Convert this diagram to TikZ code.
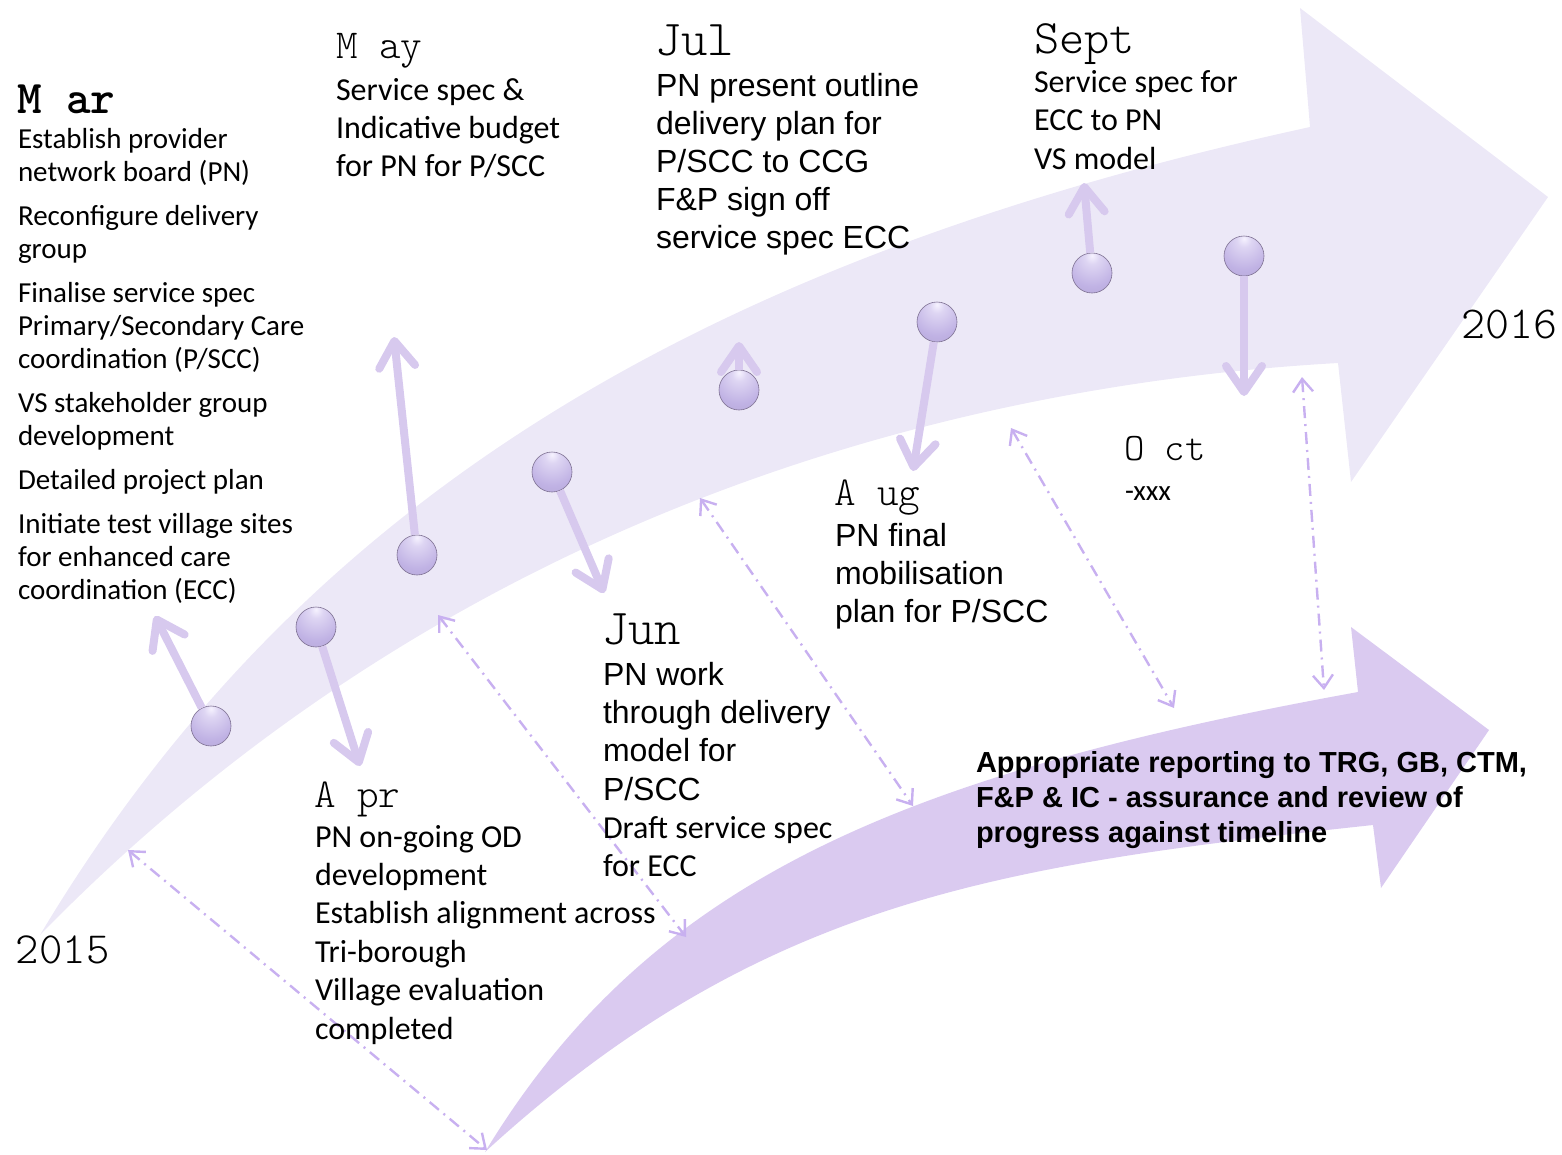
\documentclass[tikz,border=0pt]{standalone}
\usepackage{fontspec}
\usetikzlibrary{arrows.meta}
\newfontfamily\fCal{Carlito}
\newfontfamily\fAri{Liberation Sans}
\IfFontExistsTF{Latin Modern Mono Light}{\newfontfamily\fCou{Latin Modern Mono Light}\newcommand\cs{1.143}}{\newfontfamily\fCou{Liberation Mono}\newcommand\cs{1}}
\newcommand\msz[1]{\fontsize{\fpeval{#1*\cs}}{\fpeval{#1*\cs}}\selectfont}
\definecolor{bandc}{RGB}{236,232,247}
\definecolor{darkc}{RGB}{218,202,240}
\definecolor{arrc}{RGB}{215,201,238}
\definecolor{dotc}{RGB}{200,176,240}
\definecolor{ballc}{RGB}{192,178,228}
\definecolor{ballhi}{RGB}{246,242,255}
\definecolor{balledge}{RGB}{125,112,145}
\pgfdeclareradialshading{ballsh}{\pgfpoint{0bp}{22bp}}{color(0bp)=(ballhi); color(9bp)=(ballhi!55!ballc); color(32bp)=(ballc); color(60bp)=(ballc!90!black); color(70bp)=(ballc!72!black); color(100bp)=(ballc!72!black)}
\newcommand\blk[1]{\vtop{\halign{##\hfil\cr#1\crcr}}}
\newcommand\gap{\noalign{\vskip 11pt}}
\tikzset{
  txt/.style={anchor=base west, inner sep=0pt, outer sep=0pt, text=black},
  ballnode/.style={circle, minimum size=40pt, inner sep=0pt, shading=ballsh, draw=balledge, line width=0.6pt},
  sarrow/.style={draw=arrc, line width=8pt, -{Straight Barb[round, length=26pt, width=36pt]}},
  darrow/.style={draw=dotc, line width=2.4pt, dash pattern=on 12pt off 6pt on 2pt off 6pt,
     {Straight Barb[length=13pt, width=20pt]}-{Straight Barb[length=13pt, width=20pt]}}
}
\begin{document}
\begin{tikzpicture}[x=1pt, y=-1pt]
\useasboundingbox (0,0) rectangle (1562,1154);
% big light arrow
\fill[bandc] (40,935) .. controls (300,500) and (700,260) .. (1310,127) -- (1300,8) -- (1548,197) -- (1351,482) -- (1338,363) .. controls (950,385) and (450,515) .. (40,935) -- cycle;
% darker arrow
\fill[darkc] (485,1152) .. controls (650,880) and (900,775) .. (1358,692) -- (1351,627) -- (1489,730) -- (1381,888) -- (1373,825) .. controls (1000,865) and (760,900) .. (485,1152) -- cycle;

% dotted double arrows
\coordinate (d1a) at (128,850); \coordinate (d1b) at (487,1150);
\coordinate (d2a) at (438,615); \coordinate (d2b) at (686,937);
\coordinate (d3a) at (700,498); \coordinate (d3b) at (913,806);
\coordinate (d4a) at (1011,428); \coordinate (d4b) at (1174,708);
\coordinate (d5a) at (1302,377); \coordinate (d5b) at (1324,690);
\draw[darrow] (d1a) -- (d1b);
\draw[darrow] (d2a) -- (d2b);
\draw[darrow] (d3a) -- (d3b);
\draw[darrow] (d4a) -- (d4b);
\draw[darrow] (d5a) -- (d5b);

% balls
\node[ballnode] (bMar) at (211,726) {};
\node[ballnode] (bApr) at (316,627) {};
\node[ballnode] (bMay) at (417,555) {};
\node[ballnode] (bJun) at (552,472) {};
\node[ballnode] (bJul) at (739,390) {};
\node[ballnode] (bAug) at (937,322) {};
\node[ballnode] (bSept) at (1092,273) {};
\node[ballnode] (bOct) at (1244,256) {};

% arrow tips
\coordinate (pMar) at (155,616);
\coordinate (pApr) at (360,766);
\coordinate (pMay) at (394,337);
\coordinate (pJun) at (604,593);
\coordinate (pJul) at (739,342);
\coordinate (pAug) at (913,471);
\coordinate (pSept) at (1084,183);
\coordinate (pOct) at (1244,396);
\draw[sarrow] (bMar) -- (pMar);
\draw[sarrow] (bApr) -- (pApr);
\draw[sarrow] (bMay) -- (pMay);
\draw[sarrow] (bJun) -- (pJun);
\draw[sarrow] (bJul) -- (pJul);
\draw[sarrow] (bAug) -- (pAug);
\draw[sarrow] (bSept) -- (pSept);
\draw[sarrow] (bOct) -- (pOct);

% month labels
\node[txt, font=\fCou\bfseries\msz{41}] (mMar) at (17,113) {M ar};
\node[txt, font=\fCou\msz{36}] (mMay) at (336,58) {M ay};
\node[txt, font=\fCou\msz{44}] (mJul) at (655,55) {Jul};
\node[txt, font=\fCou\msz{42}] (mSept) at (1034,53) {Sept};
\node[txt, font=\fCou\msz{36}] (mApr) at (314,807) {A pr};
\node[txt, font=\fCou\msz{44}] (mJun) at (602,644) {Jun};
\node[txt, font=\fCou\msz{36}] (mAug) at (834,505) {A ug};
\node[txt, font=\fCou\msz{34}] (mOct) at (1124,460) {O ct};
\node[txt, font=\fCou\msz{39}] (y2015) at (16,963) {2015};
\node[txt, font=\fCou\msz{40}] (y2016) at (1461,338) {2016};

% text blocks
\node[txt, font=\fCal\fontsize{29}{33}\selectfont] (tMar) at (18,148) {\blk{Establish provider\cr network board (PN)\cr\gap Reconfigure delivery\cr group\cr\gap Finalise service spec\cr Primary/Secondary Care\cr coordination (P/SCC)\cr\gap VS stakeholder group\cr development\cr\gap Detailed project plan\cr\gap Initiate test village sites\cr for enhanced care\cr coordination (ECC)}};
\node[txt, font=\fCal\fontsize{32}{38}\selectfont] (tMay) at (336,100) {\blk{Service spec \&\cr Indicative budget\cr for PN for P/SCC}};
\node[txt, font=\fAri\fontsize{32}{38}\selectfont] (tJul) at (656,96) {\blk{PN present outline\cr delivery plan for\cr P/SCC to CCG\cr F\&P sign off\cr service spec ECC}};
\node[txt, font=\fCal\fontsize{32}{38.5}\selectfont] (tSept) at (1034,92) {\blk{Service spec for\cr ECC to PN\cr VS model}};
\node[txt, font=\fCal\fontsize{32}{38.4}\selectfont] (tApr) at (315,847) {\blk{PN on-going OD\cr development\cr Establish alignment across\cr Tri-borough\cr Village evaluation\cr completed}};
\node[txt, font=\fAri\fontsize{32}{38.4}\selectfont] (tJunA) at (603,685) {\blk{PN work\cr through delivery\cr model for\cr P/SCC}};
\node[txt, font=\fCal\fontsize{32}{38.4}\selectfont] (tJunB) at (603,838) {\blk{Draft service spec\cr for ECC}};
\node[txt, font=\fAri\fontsize{32}{38}\selectfont] (tAug) at (835,546) {\blk{PN final\cr mobilisation\cr plan for P/SCC}};
\node[txt, font=\fCal\fontsize{29}{33}\selectfont] (tOct) at (1125,500) {-xxx};
\node[txt, font=\fAri\bfseries\fontsize{29}{35}\selectfont] (tRep) at (976,772) {\blk{Appropriate reporting to TRG, GB, CTM,\cr F\&P \& IC - assurance and review of\cr progress against timeline}};
\end{tikzpicture}
\end{document}
